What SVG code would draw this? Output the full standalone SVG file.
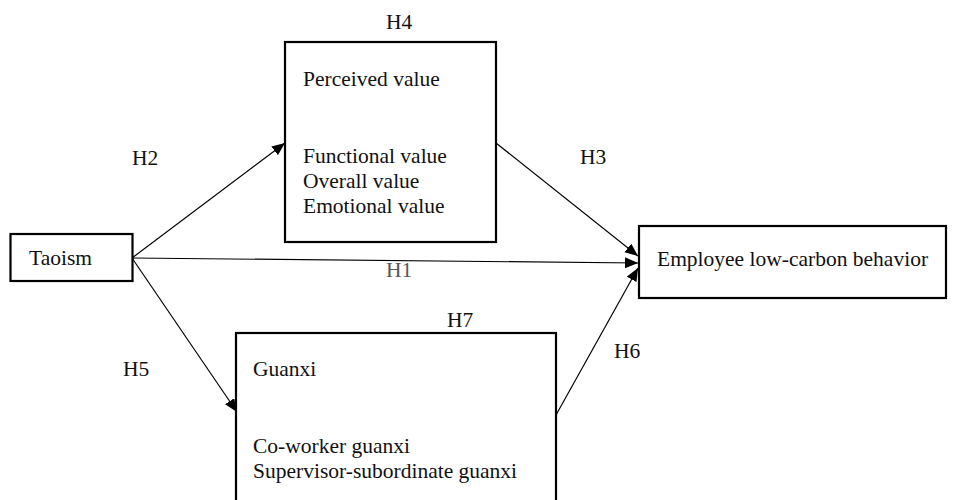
<svg xmlns="http://www.w3.org/2000/svg" width="957" height="500" viewBox="0 0 957 500">
<defs>
<marker id="ah" markerUnits="userSpaceOnUse" markerWidth="14" markerHeight="12" refX="13" refY="5.5" orient="auto">
<path d="M0,0 L13,5.5 L0,11 Z" fill="#000"/>
</marker>
<style>
.box{fill:#fff;stroke:#000;stroke-width:2.2}
.t{font-family:"Liberation Serif","Times New Roman",serif;font-size:21.5px;fill:#111}
.lbl{font-family:"Liberation Serif","Times New Roman",serif;font-size:21.5px;fill:#111}
.c{fill:none;stroke:#000;stroke-width:1.2;marker-end:url(#ah)}
</style>
</defs>
<rect width="957" height="500" fill="#fff"/>
<g id="connectors">
<line class="c" x1="132" y1="258" x2="285" y2="143"/>
<line class="c" x1="132" y1="258" x2="638" y2="263"/>
<line class="c" x1="132" y1="258" x2="237" y2="412"/>
<line class="c" x1="496" y1="143" x2="638" y2="256"/>
<line class="c" x1="556" y1="415" x2="638" y2="268"/>
</g>
<g id="taoism">
<rect class="box" x="10.5" y="234" width="122" height="47"/>
<text class="t" x="29" y="265">Taoism</text>
</g>
<g id="perceived-value">
<rect class="box" x="285" y="42" width="211" height="200"/>
<text class="t" x="303" y="86">Perceived value</text>
<text class="t" x="303" y="163">Functional value</text>
<text class="t" x="303" y="188">Overall value</text>
<text class="t" x="303" y="213">Emotional value</text>
</g>
<g id="employee">
<rect class="box" x="639" y="226" width="307" height="72"/>
<text class="t" x="657" y="266">Employee low-carbon behavior</text>
</g>
<g id="guanxi">
<rect class="box" x="236" y="333" width="320" height="200"/>
<text class="t" x="253" y="376">Guanxi</text>
<text class="t" x="253" y="453">Co-worker guanxi</text>
<text class="t" x="253" y="478">Supervisor-subordinate guanxi</text>
</g>
<g id="labels">
<text class="lbl" x="386" y="29">H4</text>
<text class="lbl" x="132" y="165">H2</text>
<text class="lbl" x="580" y="164">H3</text>
<text class="lbl" x="386" y="277" style="fill:#555">H1</text>
<text class="lbl" x="447" y="327">H7</text>
<text class="lbl" x="123" y="376">H5</text>
<text class="lbl" x="614" y="358">H6</text>
</g>
</svg>
